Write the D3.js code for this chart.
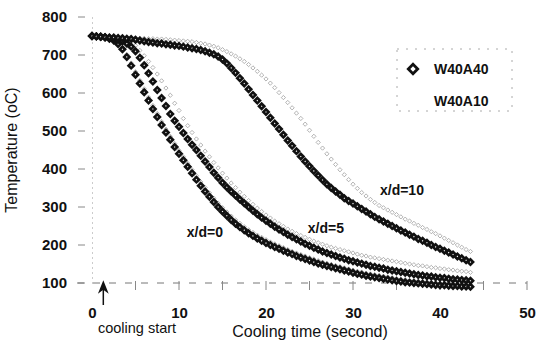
<!DOCTYPE html>
<html>
<head>
<meta charset="utf-8">
<script src="https://cdn.jsdelivr.net/npm/d3@7"></script>
<style>
  body { margin: 0; background: #fff; }
  text { font-family: "Liberation Sans", Arial, sans-serif; fill: #111; }
</style>
</head>
<body>
<div id="data-viz"></div>
<script>
// sample times (s), one reading every 0.5 s
const time = d3.range(0, 44, 0.5);

// W40A40 (black diamonds)
const a40_xd0 = [750,749,748,746,743,738,729,715,695,672,
  648,625,602,580,558,537,516,496,477,458,
  440,423,406,389,372,356,341,327,313,300,
  288,277,266,256,247,239,231,224,217,211,
  205,200,195,190,185,180,176,171,167,163,
  159,155,151,148,145,142,139,136,133,130,
  127,124,122,119,117,115,113,111,109,107,
  105,104,102,101,100,99,98,97,96,95,
  94,94,93,92,92,91,91,90];
const a40_xd5 = [750,749,748,747,745,743,740,736,730,722,
  710,693,673,652,630,608,587,566,545,527,
  511,495,479,464,450,435,420,405,390,377,
  364,352,341,330,320,310,300,290,281,272,
  264,256,248,241,234,227,221,215,209,203,
  198,193,188,183,179,175,171,167,164,160,
  157,154,151,148,145,143,140,138,135,133,
  131,129,127,125,123,121,120,118,117,115,
  114,113,111,110,109,108,107,106];
const a40_xd10 = [750,749,748,747,746,746,745,744,743,742,
  740,738,736,734,733,731,730,728,727,725,
  724,722,720,718,716,713,710,706,702,696,
  688,678,666,653,639,625,610,595,580,565,
  550,535,520,505,490,475,461,447,433,420,
  407,395,383,371,360,350,341,332,323,316,
  309,302,295,288,281,274,268,262,256,250,
  244,238,233,227,222,216,211,206,200,195,
  190,185,180,175,170,165,160,155];

// W40A10 (faint open markers)
const a10_xd0 = [750,750,749,747,745,741,733,720,701,679,
  656,633,611,589,567,546,525,505,486,467,
  449,432,415,398,382,366,351,337,323,310,
  298,287,276,266,257,248,240,233,226,220,
  214,208,203,198,193,188,183,179,175,171,
  167,163,159,155,152,149,146,143,140,137,
  134,131,129,126,124,122,120,118,116,114,
  112,110,109,107,106,105,104,103,102,101,
  100,99,98,98,97,96,96,95];
const a10_xd5 = [750,750,749,748,747,746,744,742,739,734,
  725,712,698,683,667,650,632,613,594,573,
  554,533,514,496,479,463,447,432,417,403,
  389,376,363,351,339,328,317,307,297,288,
  279,271,263,256,249,242,236,230,225,220,
  215,210,206,202,198,194,191,188,185,182,
  179,176,173,171,168,166,164,162,160,158,
  156,154,152,150,148,146,145,143,141,140,
  138,137,135,134,132,131,130,128];
const a10_xd10 = [750,750,749,748,748,747,747,746,746,745,
  745,744,744,743,743,742,742,741,740,739,
  738,737,736,735,733,731,729,726,723,719,
  714,709,703,697,690,683,675,666,657,647,
  637,626,614,601,588,575,561,547,533,518,
  502,486,470,455,440,426,412,398,385,372,
  360,349,338,329,320,312,304,298,292,286,
  280,274,268,263,257,252,246,241,235,230,
  224,218,212,206,200,194,188,183];

const xTicks = [0, 10, 20, 30, 40, 50];
const xMinor = [5, 15, 25, 35, 45];
const yTicks = [100, 200, 300, 400, 500, 600, 700, 800];
const legendLabels = ['W40A40', 'W40A10'];
const curveLabels = ['x/d=0', 'x/d=5', 'x/d=10'];

// set the dimensions and margins of the graph
const margin = {top: 17, right: 13, bottom: 59, left: 92};
const width = 540 - margin.left - margin.right;
const height = 342 - margin.top - margin.bottom;

const svg = d3.select('#data-viz')
  .append('svg')
  .attr('width', width + margin.left + margin.right)
  .attr('height', height + margin.top + margin.bottom)
  .append('g')
  .attr('transform', 'translate(' + margin.left + ',' + margin.top + ')');

const x = d3.scaleLinear().domain([0, 50]).range([0, width]);
const y = d3.scaleLinear().domain([100, 800]).range([height, 0]);

// y axis: dotted line, labels off to the left
const yAxis = svg.append('g')
  .call(d3.axisLeft(y).tickValues(yTicks).tickSize(0).tickSizeOuter(0).tickPadding(25));
yAxis.select('.domain').attr('stroke', '#999').attr('stroke-dasharray', '1,4');
yAxis.selectAll('text').style('font-size', '15px').style('font-weight', 'bold');
svg.selectAll('.ytick')
  .data(yTicks)
  .enter()
  .append('line')
  .attr('x1', -14).attr('x2', -7)
  .attr('y1', d => y(d)).attr('y2', d => y(d))
  .attr('stroke', '#888');

// x axis: dashed line with small ticks
const xAxis = svg.append('g')
  .attr('transform', 'translate(0,' + height + ')')
  .call(d3.axisBottom(x).tickValues(xTicks).tickSize(0).tickSizeOuter(0).tickPadding(24));
xAxis.select('.domain').remove();
xAxis.selectAll('text').style('font-size', '15px').style('font-weight', 'bold');
svg.append('line')
  .attr('x1', -15).attr('x2', width)
  .attr('y1', height).attr('y2', height)
  .attr('stroke', '#777')
  .attr('stroke-dasharray', '7,9');
svg.selectAll('.xtick')
  .data(xTicks.slice(1).concat(xMinor))
  .enter()
  .append('line')
  .attr('x1', d => x(d)).attr('x2', d => x(d))
  .attr('y1', height - 2).attr('y2', height + 7)
  .attr('stroke', '#888');

// axis titles
svg.append('text')
  .attr('transform', 'translate(' + (17 - margin.left) + ',' + (150 - margin.top) + ') rotate(-90)')
  .attr('text-anchor', 'middle')
  .style('font-size', '16px')
  .text('Temperature (oC)');
svg.append('text')
  .attr('x', 310 - margin.left)
  .attr('y', 337 - margin.top)
  .attr('text-anchor', 'middle')
  .style('font-size', '16px')
  .text('Cooling time (second)');
svg.append('text')
  .attr('x', 137 - margin.left)
  .attr('y', 333 - margin.top)
  .attr('text-anchor', 'middle')
  .style('font-size', '14.5px')
  .text('cooling start');

// arrow marking the start of cooling
svg.append('defs').append('marker')
  .attr('id', 'arrow')
  .attr('viewBox', '0 0 10 10')
  .attr('refX', 5).attr('refY', 5)
  .attr('markerWidth', 9).attr('markerHeight', 9)
  .attr('orient', 'auto')
  .append('path')
  .attr('d', 'M0,1 L10,5 L0,9 L3,5 Z')
  .attr('fill', '#111');
svg.append('line')
  .attr('x1', x(1.3)).attr('x2', x(1.3))
  .attr('y1', height + 22).attr('y2', height + 4)
  .attr('stroke', '#111')
  .attr('stroke-width', 1.5)
  .attr('marker-end', 'url(#arrow)');

// faint W40A10 series underneath
const diamond = d3.symbol(d3.symbolSquare, 14);
const openMark = d3.symbol(d3.symbolSquare, 9);

[a10_xd0, a10_xd5, a10_xd10].forEach(series => {
  svg.append('g')
    .selectAll('path')
    .data(series)
    .enter()
    .append('path')
    .attr('d', openMark)
    .attr('transform', (d, i) => 'translate(' + x(time[i]) + ',' + y(d) + ') rotate(45)')
    .attr('fill', 'none')
    .attr('stroke', '#999')
    .attr('stroke-width', 0.7);
});

// W40A40 series on top
[a40_xd0, a40_xd5, a40_xd10].forEach(series => {
  svg.append('g')
    .selectAll('path')
    .data(series)
    .enter()
    .append('path')
    .attr('d', diamond)
    .attr('transform', (d, i) => 'translate(' + x(time[i]) + ',' + y(d) + ') rotate(45)')
    .attr('fill', '#fff')
    .attr('stroke', '#111')
    .attr('stroke-width', 2.6);
});

// curve labels, anchored in data units
const labelAt = [[10.9, 221], [24.8, 232], [33.1, 332]];
svg.selectAll('.curve-label')
  .data(curveLabels)
  .enter()
  .append('text')
  .attr('x', (d, i) => x(labelAt[i][0]))
  .attr('y', (d, i) => y(labelAt[i][1]))
  .style('font-size', '14px')
  .style('font-weight', 'bold')
  .text(d => d);

// legend
const legend = svg.append('g')
  .attr('transform', 'translate(' + (397 - margin.left) + ',' + (49 - margin.top) + ')');
legend.append('rect')
  .attr('width', 115).attr('height', 62)
  .attr('fill', 'none')
  .attr('stroke', '#aaa')
  .attr('stroke-dasharray', '2,7');
legend.append('path')
  .attr('d', d3.symbol(d3.symbolSquare, 44))
  .attr('transform', 'translate(16,20) rotate(45)')
  .attr('fill', '#fff')
  .attr('stroke', '#111')
  .attr('stroke-width', 2.8);
legend.selectAll('.lab')
  .data(legendLabels)
  .enter()
  .append('text')
  .attr('x', 37)
  .attr('y', (d, i) => 25 + i * 32)
  .style('font-size', '14px')
  .style('font-weight', 'bold')
  .text(d => d);
</script>
</body>
</html>
